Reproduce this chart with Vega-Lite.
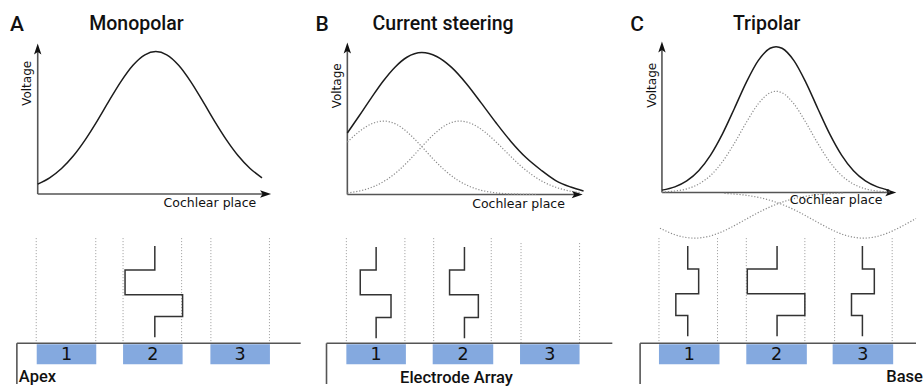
{
  "$schema": "https://vega.github.io/schema/vega-lite/v6.json",
  "width": 923,
  "height": 387,
  "padding": 0,
  "autosize": {"type": "fit", "contains": "padding"},
  "background": "white",
  "config": {"view": {"stroke": null}},
  "datasets": {
    "curves": [
      {"curve": "A", "style": "solid", "x": 38, "y": 185.6}, {"curve": "A", "style": "solid", "x": 50, "y": 179.2},
      {"curve": "A", "style": "solid", "x": 62, "y": 169.8}, {"curve": "A", "style": "solid", "x": 74, "y": 157.0},
      {"curve": "A", "style": "solid", "x": 86, "y": 140.7}, {"curve": "A", "style": "solid", "x": 98, "y": 121.8},
      {"curve": "A", "style": "solid", "x": 110, "y": 101.5}, {"curve": "A", "style": "solid", "x": 122, "y": 82.0},
      {"curve": "A", "style": "solid", "x": 134, "y": 65.8}, {"curve": "A", "style": "solid", "x": 146, "y": 55.3},
      {"curve": "A", "style": "solid", "x": 157, "y": 52}, {"curve": "A", "style": "solid", "x": 168, "y": 55.3},
      {"curve": "A", "style": "solid", "x": 180, "y": 65.8}, {"curve": "A", "style": "solid", "x": 192, "y": 82.0},
      {"curve": "A", "style": "solid", "x": 204, "y": 101.5}, {"curve": "A", "style": "solid", "x": 216, "y": 121.8},
      {"curve": "A", "style": "solid", "x": 228, "y": 140.7}, {"curve": "A", "style": "solid", "x": 240, "y": 157.0},
      {"curve": "A", "style": "solid", "x": 252, "y": 169.8}, {"curve": "A", "style": "solid", "x": 264, "y": 179.2},

      {"curve": "B", "style": "solid", "x": 350, "y": 134}, {"curve": "B", "style": "solid", "x": 362, "y": 116.7},
      {"curve": "B", "style": "solid", "x": 374, "y": 98.9}, {"curve": "B", "style": "solid", "x": 386, "y": 81.9},
      {"curve": "B", "style": "solid", "x": 398, "y": 67.7}, {"curve": "B", "style": "solid", "x": 410, "y": 57.7},
      {"curve": "B", "style": "solid", "x": 425, "y": 53}, {"curve": "B", "style": "solid", "x": 440, "y": 56.9},
      {"curve": "B", "style": "solid", "x": 455, "y": 67.9}, {"curve": "B", "style": "solid", "x": 470, "y": 84.3},
      {"curve": "B", "style": "solid", "x": 485, "y": 103.9}, {"curve": "B", "style": "solid", "x": 500, "y": 124.0},
      {"curve": "B", "style": "solid", "x": 515, "y": 142.8}, {"curve": "B", "style": "solid", "x": 530, "y": 158.8},
      {"curve": "B", "style": "solid", "x": 545, "y": 171.3}, {"curve": "B", "style": "solid", "x": 560, "y": 182},
      {"curve": "B", "style": "solid", "x": 575, "y": 188.5}, {"curve": "B", "style": "solid", "x": 588, "y": 192.5},

      {"curve": "B1", "style": "dotted", "x": 350, "y": 143.2}, {"curve": "B1", "style": "dotted", "x": 362, "y": 132.6},
      {"curve": "B1", "style": "dotted", "x": 374, "y": 125}, {"curve": "B1", "style": "dotted", "x": 387, "y": 122},
      {"curve": "B1", "style": "dotted", "x": 400, "y": 125.6}, {"curve": "B1", "style": "dotted", "x": 412, "y": 134.6},
      {"curve": "B1", "style": "dotted", "x": 425, "y": 147.8}, {"curve": "B1", "style": "dotted", "x": 437, "y": 160.8},
      {"curve": "B1", "style": "dotted", "x": 449, "y": 172.4}, {"curve": "B1", "style": "dotted", "x": 461, "y": 181.5},
      {"curve": "B1", "style": "dotted", "x": 473, "y": 187.8}, {"curve": "B1", "style": "dotted", "x": 485, "y": 191.8},
      {"curve": "B1", "style": "dotted", "x": 497, "y": 194}, {"curve": "B1", "style": "dotted", "x": 515, "y": 195.5},
      {"curve": "B1", "style": "dotted", "x": 540, "y": 196},

      {"curve": "B2", "style": "dotted", "x": 350, "y": 194.5}, {"curve": "B2", "style": "dotted", "x": 365, "y": 191.8},
      {"curve": "B2", "style": "dotted", "x": 377, "y": 187.8}, {"curve": "B2", "style": "dotted", "x": 389, "y": 181.5},
      {"curve": "B2", "style": "dotted", "x": 401, "y": 172.4}, {"curve": "B2", "style": "dotted", "x": 413, "y": 160.8},
      {"curve": "B2", "style": "dotted", "x": 425, "y": 147.8}, {"curve": "B2", "style": "dotted", "x": 438, "y": 134.6},
      {"curve": "B2", "style": "dotted", "x": 450, "y": 125.6}, {"curve": "B2", "style": "dotted", "x": 463, "y": 122},
      {"curve": "B2", "style": "dotted", "x": 476, "y": 125}, {"curve": "B2", "style": "dotted", "x": 488, "y": 132.6},
      {"curve": "B2", "style": "dotted", "x": 500, "y": 143.2}, {"curve": "B2", "style": "dotted", "x": 512, "y": 155.1},
      {"curve": "B2", "style": "dotted", "x": 524, "y": 166.5}, {"curve": "B2", "style": "dotted", "x": 536, "y": 176.2},
      {"curve": "B2", "style": "dotted", "x": 548, "y": 183.6}, {"curve": "B2", "style": "dotted", "x": 560, "y": 188.7},
      {"curve": "B2", "style": "dotted", "x": 572, "y": 192.1}, {"curve": "B2", "style": "dotted", "x": 586, "y": 194.2},

      {"curve": "C", "style": "solid", "x": 667, "y": 191.6}, {"curve": "C", "style": "solid", "x": 680, "y": 188.3},
      {"curve": "C", "style": "solid", "x": 692, "y": 182.3}, {"curve": "C", "style": "solid", "x": 704, "y": 172.1},
      {"curve": "C", "style": "solid", "x": 716, "y": 156.3}, {"curve": "C", "style": "solid", "x": 728, "y": 134.9},
      {"curve": "C", "style": "solid", "x": 740, "y": 109.3}, {"curve": "C", "style": "solid", "x": 752, "y": 83},
      {"curve": "C", "style": "solid", "x": 764, "y": 61.1}, {"curve": "C", "style": "solid", "x": 776, "y": 48.6},
      {"curve": "C", "style": "solid", "x": 782, "y": 47}, {"curve": "C", "style": "solid", "x": 788, "y": 48.6},
      {"curve": "C", "style": "solid", "x": 800, "y": 61.1}, {"curve": "C", "style": "solid", "x": 812, "y": 83},
      {"curve": "C", "style": "solid", "x": 824, "y": 109.3}, {"curve": "C", "style": "solid", "x": 836, "y": 134.9},
      {"curve": "C", "style": "solid", "x": 848, "y": 156.3}, {"curve": "C", "style": "solid", "x": 860, "y": 172.1},
      {"curve": "C", "style": "solid", "x": 872, "y": 182.3}, {"curve": "C", "style": "solid", "x": 884, "y": 188.3},
      {"curve": "C", "style": "solid", "x": 896, "y": 191.6},

      {"curve": "C0", "style": "dotted", "x": 667, "y": 193.5}, {"curve": "C0", "style": "dotted", "x": 680, "y": 192.5},
      {"curve": "C0", "style": "dotted", "x": 692, "y": 190.3}, {"curve": "C0", "style": "dotted", "x": 704, "y": 185.5},
      {"curve": "C0", "style": "dotted", "x": 716, "y": 176.8}, {"curve": "C0", "style": "dotted", "x": 728, "y": 163},
      {"curve": "C0", "style": "dotted", "x": 740, "y": 144.4}, {"curve": "C0", "style": "dotted", "x": 752, "y": 123.4},
      {"curve": "C0", "style": "dotted", "x": 764, "y": 104.7}, {"curve": "C0", "style": "dotted", "x": 776, "y": 93.5},
      {"curve": "C0", "style": "dotted", "x": 782, "y": 92}, {"curve": "C0", "style": "dotted", "x": 788, "y": 93.5},
      {"curve": "C0", "style": "dotted", "x": 800, "y": 104.7}, {"curve": "C0", "style": "dotted", "x": 812, "y": 123.4},
      {"curve": "C0", "style": "dotted", "x": 824, "y": 144.4}, {"curve": "C0", "style": "dotted", "x": 836, "y": 163},
      {"curve": "C0", "style": "dotted", "x": 848, "y": 176.8}, {"curve": "C0", "style": "dotted", "x": 860, "y": 185.5},
      {"curve": "C0", "style": "dotted", "x": 872, "y": 190.3}, {"curve": "C0", "style": "dotted", "x": 884, "y": 192.5},
      {"curve": "C0", "style": "dotted", "x": 897, "y": 193.5},

      {"curve": "C1", "style": "dotted", "x": 665, "y": 230}, {"curve": "C1", "style": "dotted", "x": 680, "y": 236.5},
      {"curve": "C1", "style": "dotted", "x": 692, "y": 239.4}, {"curve": "C1", "style": "dotted", "x": 700, "y": 240},
      {"curve": "C1", "style": "dotted", "x": 712, "y": 238.7}, {"curve": "C1", "style": "dotted", "x": 724, "y": 235},
      {"curve": "C1", "style": "dotted", "x": 736, "y": 229.5}, {"curve": "C1", "style": "dotted", "x": 748, "y": 223},
      {"curve": "C1", "style": "dotted", "x": 760, "y": 216.4}, {"curve": "C1", "style": "dotted", "x": 772, "y": 210.3},
      {"curve": "C1", "style": "dotted", "x": 784, "y": 205.2}, {"curve": "C1", "style": "dotted", "x": 796, "y": 201.3},
      {"curve": "C1", "style": "dotted", "x": 808, "y": 198.5}, {"curve": "C1", "style": "dotted", "x": 820, "y": 196.6},
      {"curve": "C1", "style": "dotted", "x": 835, "y": 195.2}, {"curve": "C1", "style": "dotted", "x": 850, "y": 194.5},

      {"curve": "C3", "style": "dotted", "x": 730, "y": 194.9}, {"curve": "C3", "style": "dotted", "x": 742, "y": 195.7},
      {"curve": "C3", "style": "dotted", "x": 754, "y": 197.1}, {"curve": "C3", "style": "dotted", "x": 766, "y": 199.3},
      {"curve": "C3", "style": "dotted", "x": 778, "y": 202.5}, {"curve": "C3", "style": "dotted", "x": 790, "y": 206.8},
      {"curve": "C3", "style": "dotted", "x": 802, "y": 212.2}, {"curve": "C3", "style": "dotted", "x": 814, "y": 218.6},
      {"curve": "C3", "style": "dotted", "x": 826, "y": 225.2}, {"curve": "C3", "style": "dotted", "x": 838, "y": 231.5},
      {"curve": "C3", "style": "dotted", "x": 850, "y": 236.5}, {"curve": "C3", "style": "dotted", "x": 862, "y": 239.4},
      {"curve": "C3", "style": "dotted", "x": 870, "y": 240}, {"curve": "C3", "style": "dotted", "x": 882, "y": 238.7},
      {"curve": "C3", "style": "dotted", "x": 894, "y": 235}, {"curve": "C3", "style": "dotted", "x": 906, "y": 229.5},
      {"curve": "C3", "style": "dotted", "x": 918, "y": 223}, {"curve": "C3", "style": "dotted", "x": 923, "y": 220.2}
    ],
    "axes": [
      {"x": 38, "y": 195.5, "x2": 38, "y2": 48}, {"x": 38, "y": 195.5, "x2": 269, "y2": 195.5},
      {"x": 350, "y": 196, "x2": 350, "y2": 47}, {"x": 350, "y": 196, "x2": 583, "y2": 196},
      {"x": 667, "y": 194, "x2": 667, "y2": 46}, {"x": 667, "y": 194, "x2": 899, "y2": 194},
      {"x": 17, "y": 346, "x2": 303, "y2": 346}, {"x": 17, "y": 346, "x2": 17, "y2": 387},
      {"x": 329, "y": 346, "x2": 617, "y2": 346}, {"x": 329, "y": 346, "x2": 329, "y2": 387},
      {"x": 645, "y": 346, "x2": 923, "y2": 346}, {"x": 645, "y": 346, "x2": 645, "y2": 387}
    ],
    "arrows": [
      {"dir": "up", "x": 38, "y": 50}, {"dir": "right", "x": 267, "y": 195.5},
      {"dir": "up", "x": 350, "y": 49}, {"dir": "right", "x": 581, "y": 196},
      {"dir": "up", "x": 667, "y": 48}, {"dir": "right", "x": 897, "y": 194}
    ],
    "guides": [
      {"x": 36.5, "y": 240, "y2": 346}, {"x": 96.5, "y": 240, "y2": 346},
      {"x": 124, "y": 240, "y2": 346}, {"x": 183, "y": 240, "y2": 346},
      {"x": 212.5, "y": 240, "y2": 346}, {"x": 271.5, "y": 240, "y2": 346},
      {"x": 349, "y": 240, "y2": 346}, {"x": 408, "y": 240, "y2": 346},
      {"x": 437, "y": 240, "y2": 346}, {"x": 495, "y": 240, "y2": 346},
      {"x": 525, "y": 245, "y2": 346}, {"x": 584, "y": 245, "y2": 346},
      {"x": 664, "y": 240, "y2": 346}, {"x": 723, "y": 240, "y2": 346},
      {"x": 752, "y": 240, "y2": 346}, {"x": 811, "y": 240, "y2": 346},
      {"x": 841, "y": 240, "y2": 346}, {"x": 899, "y": 240, "y2": 346}
    ],
    "electrodes": [
      {"label": "1", "x": 37, "x2": 97, "y": 347, "y2": 367}, {"label": "2", "x": 124, "x2": 184, "y": 347, "y2": 367},
      {"label": "3", "x": 212, "x2": 272, "y": 347, "y2": 367},
      {"label": "1", "x": 349, "x2": 409, "y": 347, "y2": 367}, {"label": "2", "x": 436, "x2": 497, "y": 347, "y2": 367},
      {"label": "3", "x": 524, "x2": 584, "y": 347, "y2": 367},
      {"label": "1", "x": 664, "x2": 725, "y": 347, "y2": 367}, {"label": "2", "x": 752, "x2": 813, "y": 347, "y2": 367},
      {"label": "3", "x": 839, "x2": 900, "y": 347, "y2": 367}
    ],
    "pulses": [
      {"pulse": "A2", "seq": 1, "x": 156, "y": 248}, {"pulse": "A2", "seq": 2, "x": 156, "y": 272},
      {"pulse": "A2", "seq": 3, "x": 126, "y": 272}, {"pulse": "A2", "seq": 4, "x": 126, "y": 297},
      {"pulse": "A2", "seq": 5, "x": 184, "y": 297}, {"pulse": "A2", "seq": 6, "x": 184, "y": 319},
      {"pulse": "A2", "seq": 7, "x": 156, "y": 319}, {"pulse": "A2", "seq": 8, "x": 156, "y": 340},
      {"pulse": "B1", "seq": 1, "x": 379, "y": 249}, {"pulse": "B1", "seq": 2, "x": 379, "y": 272},
      {"pulse": "B1", "seq": 3, "x": 363, "y": 272}, {"pulse": "B1", "seq": 4, "x": 363, "y": 297},
      {"pulse": "B1", "seq": 5, "x": 394, "y": 297}, {"pulse": "B1", "seq": 6, "x": 394, "y": 320},
      {"pulse": "B1", "seq": 7, "x": 379, "y": 320}, {"pulse": "B1", "seq": 8, "x": 379, "y": 341},
      {"pulse": "B2", "seq": 1, "x": 468, "y": 249}, {"pulse": "B2", "seq": 2, "x": 468, "y": 272},
      {"pulse": "B2", "seq": 3, "x": 453, "y": 272}, {"pulse": "B2", "seq": 4, "x": 453, "y": 297},
      {"pulse": "B2", "seq": 5, "x": 482, "y": 297}, {"pulse": "B2", "seq": 6, "x": 482, "y": 320},
      {"pulse": "B2", "seq": 7, "x": 468, "y": 320}, {"pulse": "B2", "seq": 8, "x": 468, "y": 341},
      {"pulse": "C1", "seq": 1, "x": 693, "y": 248}, {"pulse": "C1", "seq": 2, "x": 693, "y": 271},
      {"pulse": "C1", "seq": 3, "x": 704, "y": 271}, {"pulse": "C1", "seq": 4, "x": 704, "y": 296},
      {"pulse": "C1", "seq": 5, "x": 681, "y": 296}, {"pulse": "C1", "seq": 6, "x": 681, "y": 318},
      {"pulse": "C1", "seq": 7, "x": 693, "y": 318}, {"pulse": "C1", "seq": 8, "x": 693, "y": 339},
      {"pulse": "C2", "seq": 1, "x": 783, "y": 248}, {"pulse": "C2", "seq": 2, "x": 783, "y": 271},
      {"pulse": "C2", "seq": 3, "x": 753, "y": 271}, {"pulse": "C2", "seq": 4, "x": 753, "y": 296},
      {"pulse": "C2", "seq": 5, "x": 811, "y": 296}, {"pulse": "C2", "seq": 6, "x": 811, "y": 318},
      {"pulse": "C2", "seq": 7, "x": 783, "y": 318}, {"pulse": "C2", "seq": 8, "x": 783, "y": 339},
      {"pulse": "C3", "seq": 1, "x": 869, "y": 248}, {"pulse": "C3", "seq": 2, "x": 869, "y": 271},
      {"pulse": "C3", "seq": 3, "x": 881, "y": 271}, {"pulse": "C3", "seq": 4, "x": 881, "y": 296},
      {"pulse": "C3", "seq": 5, "x": 858, "y": 296}, {"pulse": "C3", "seq": 6, "x": 858, "y": 318},
      {"pulse": "C3", "seq": 7, "x": 869, "y": 318}, {"pulse": "C3", "seq": 8, "x": 869, "y": 339}
    ],
    "letters": [
      {"text": "A", "x": 10, "y": 31}, {"text": "B", "x": 318, "y": 31}, {"text": "C", "x": 635, "y": 31}
    ],
    "titles": [
      {"text": "Monopolar", "x": 137.5, "y": 30}, {"text": "Current steering", "x": 446.5, "y": 30},
      {"text": "Tripolar", "x": 772.5, "y": 30}
    ],
    "ylabels": [
      {"text": "Voltage", "x": 27.5, "y": 84}, {"text": "Voltage", "x": 340, "y": 86.5},
      {"text": "Voltage", "x": 657, "y": 86}
    ],
    "xlabels": [
      {"text": "Cochlear place", "x": 211.5, "y": 205}, {"text": "Cochlear place", "x": 522.5, "y": 206},
      {"text": "Cochlear place", "x": 842.5, "y": 202}
    ],
    "arraylabels": [
      {"text": "Apex", "anchor": "left", "x": 19, "y": 385},
      {"text": "Electrode Array", "anchor": "center", "x": 460, "y": 386},
      {"text": "Base", "anchor": "left", "x": 893, "y": 385}
    ]
  },
  "encoding": {
    "x": {"field": "x", "type": "quantitative", "scale": {"domain": [0, 923], "nice": false, "zero": false}, "axis": null},
    "y": {"field": "y", "type": "quantitative", "scale": {"domain": [0, 387], "nice": false, "zero": false, "reverse": true}, "axis": null}
  },
  "layer": [
    {
      "data": {"name": "guides"},
      "mark": {"type": "rule", "stroke": "#9a9a9a", "strokeWidth": 1, "strokeDash": [1, 2]},
      "encoding": {"y2": {"field": "y2"}}
    },
    {
      "data": {"name": "electrodes"},
      "mark": {"type": "rect", "fill": "#84a9df", "stroke": null},
      "encoding": {"x2": {"field": "x2"}, "y2": {"field": "y2"}}
    },
    {
      "data": {"name": "electrodes"},
      "transform": [{"calculate": "(datum.x + datum.x2) / 2", "as": "cx"}],
      "mark": {"type": "text", "font": "DejaVu Sans", "fontSize": 17.5, "color": "#111", "align": "center", "baseline": "middle", "dy": 1},
      "encoding": {
        "x": {"field": "cx", "type": "quantitative"},
        "y": {"datum": 357},
        "text": {"field": "label"}
      }
    },
    {
      "data": {"name": "axes"},
      "mark": {"type": "rule", "stroke": "#555", "strokeWidth": 1.6},
      "encoding": {"x2": {"field": "x2"}, "y2": {"field": "y2"}}
    },
    {
      "data": {"name": "arrows"},
      "transform": [{"filter": "datum.dir === 'up'"}],
      "mark": {"type": "point", "shape": "M0,-1L0.6,0.8L0,0.4L-0.6,0.8Z", "filled": true, "color": "#111", "size": 150, "opacity": 1}
    },
    {
      "data": {"name": "arrows"},
      "transform": [{"filter": "datum.dir === 'right'"}],
      "mark": {"type": "point", "shape": "M0,-1L0.6,0.8L0,0.4L-0.6,0.8Z", "angle": 90, "filled": true, "color": "#111", "size": 150, "opacity": 1}
    },
    {
      "data": {"name": "curves"},
      "transform": [{"filter": "datum.style === 'dotted'"}],
      "mark": {"type": "line", "interpolate": "monotone", "stroke": "#8a8a8a", "strokeWidth": 1.2, "strokeDash": [1.2, 1.8]},
      "encoding": {"detail": {"field": "curve"}}
    },
    {
      "data": {"name": "curves"},
      "transform": [{"filter": "datum.style === 'solid'"}],
      "mark": {"type": "line", "interpolate": "monotone", "stroke": "#1c1c1c", "strokeWidth": 1.5},
      "encoding": {"detail": {"field": "curve"}}
    },
    {
      "data": {"name": "pulses"},
      "mark": {"type": "line", "interpolate": "linear", "stroke": "#333", "strokeWidth": 1.5},
      "encoding": {"detail": {"field": "pulse"}, "order": {"field": "seq"}}
    },
    {
      "data": {"name": "letters"},
      "mark": {"type": "text", "font": "Roboto", "fontWeight": 500, "fontSize": 21, "color": "#111", "align": "left", "baseline": "alphabetic"},
      "encoding": {"text": {"field": "text"}}
    },
    {
      "data": {"name": "titles"},
      "mark": {"type": "text", "font": "Roboto", "fontWeight": 500, "fontSize": 19.5, "color": "#111", "align": "center", "baseline": "alphabetic"},
      "encoding": {"text": {"field": "text"}}
    },
    {
      "data": {"name": "ylabels"},
      "mark": {"type": "text", "font": "DejaVu Sans", "fontSize": 12, "color": "#111", "angle": 270, "align": "center", "baseline": "middle"},
      "encoding": {"text": {"field": "text"}}
    },
    {
      "data": {"name": "xlabels"},
      "mark": {"type": "text", "font": "DejaVu Sans", "fontSize": 12.5, "color": "#111", "align": "center", "baseline": "middle"},
      "encoding": {"text": {"field": "text"}}
    },
    {
      "data": {"name": "arraylabels"},
      "transform": [{"filter": "datum.anchor === 'left'"}],
      "mark": {"type": "text", "font": "Roboto", "fontWeight": 500, "fontSize": 16.5, "color": "#111", "align": "left", "baseline": "alphabetic"},
      "encoding": {"text": {"field": "text"}}
    },
    {
      "data": {"name": "arraylabels"},
      "transform": [{"filter": "datum.anchor === 'center'"}],
      "mark": {"type": "text", "font": "Roboto", "fontWeight": 500, "fontSize": 16.5, "color": "#111", "align": "center", "baseline": "alphabetic"},
      "encoding": {"text": {"field": "text"}}
    }
  ]
}
